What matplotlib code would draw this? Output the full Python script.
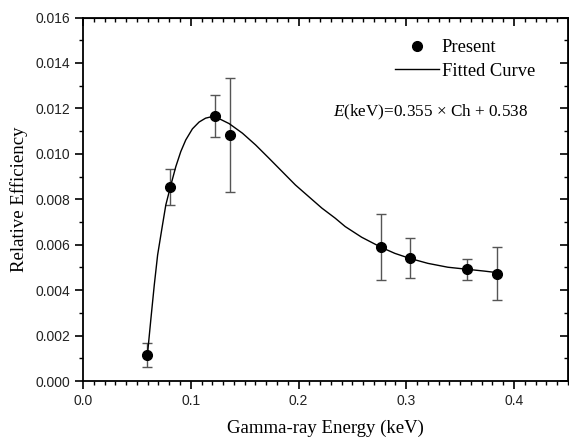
import matplotlib.pyplot as plt

# measured relative efficiency
energy = [0.0597, 0.0809, 0.1224, 0.1365, 0.2768, 0.3032, 0.3564, 0.3838]
efficiency = [0.00113, 0.00854, 0.01167, 0.01085, 0.00589, 0.00542, 0.00492, 0.00473]
err_upper = [0.00166, 0.00932, 0.01258, 0.01333, 0.00735, 0.00628, 0.00536, 0.00589]
err_lower = [0.00062, 0.00774, 0.01076, 0.00834, 0.00443, 0.00452, 0.00445, 0.00355]

# fitted curve
fit_x = [0.0600, 0.0630, 0.0661, 0.0692, 0.0732, 0.0768, 0.0815, 0.0861, 0.0907,
         0.0953, 0.1015, 0.1077, 0.1137, 0.1215, 0.1356, 0.1479, 0.1602, 0.1725,
         0.1848, 0.1971, 0.2094, 0.2217, 0.2340, 0.2433, 0.2586, 0.2765, 0.2894,
         0.3032, 0.3201, 0.3386, 0.3564, 0.3724, 0.3847]
fit_y = [0.00129, 0.00276, 0.00423, 0.00555, 0.00672, 0.00775, 0.00863, 0.00944, 0.01010,
         0.01061, 0.01110, 0.01140, 0.01157, 0.01166, 0.01133, 0.01091, 0.01039, 0.00981,
         0.00922, 0.00863, 0.00812, 0.00761, 0.00717, 0.00680, 0.00633, 0.00589, 0.00562,
         0.00540, 0.00518, 0.00501, 0.00492, 0.00484, 0.00477]

yerr = [[e - l for e, l in zip(efficiency, err_lower)],
        [u - e for e, u in zip(efficiency, err_upper)]]

plt.rcParams['font.family'] = 'Liberation Sans'
plt.rcParams['mathtext.fontset'] = 'custom'
plt.rcParams['mathtext.it'] = 'Liberation Serif:italic'
plt.rcParams['mathtext.rm'] = 'Liberation Serif'

fig = plt.figure(figsize=(5.69, 4.38), dpi=100)
ax = fig.add_axes([0.146, 0.130, 0.852, 0.830])

ax.plot(fit_x, fit_y, color='black', lw=1.0, label='Fitted Curve', zorder=2)
ax.errorbar(energy, efficiency, yerr=yerr, fmt='none', ecolor='#555555',
            elinewidth=1.0, capsize=3.5, capthick=1.0, zorder=1)
ax.plot(energy, efficiency, 'o', color='black', ms=7, label='Present',
        linestyle='none', zorder=3)

ax.set_xlim(0, 0.45)
ax.set_ylim(0, 0.016)
ax.set_xticks([0.0, 0.1, 0.2, 0.3, 0.4])
ax.set_xticklabels(['0.0', '0.1', '0.2', '0.3', '0.4'])
ax.set_yticks([0.000, 0.002, 0.004, 0.006, 0.008, 0.010, 0.012, 0.014, 0.016])
ax.set_yticklabels(['0.000', '0.002', '0.004', '0.006', '0.008', '0.010',
                    '0.012', '0.014', '0.016'])
ax.set_xticks([i * 0.01 for i in range(46)], minor=True)
ax.set_yticks([i * 0.001 for i in range(17)], minor=True)

ax.tick_params(which='major', direction='out', length=6, width=1.2,
               labelsize=10, colors='black', labelcolor='#222222')
ax.tick_params(which='minor', direction='out', length=3, width=1.0)

for s in ax.spines.values():
    s.set_linewidth(1.3)

# mirrored ticks pointing inward on top and right
top = ax.secondary_xaxis('top')
top.set_xticks([0.0, 0.1, 0.2, 0.3, 0.4])
top.set_xticks([i * 0.01 for i in range(46)], minor=True)
top.tick_params(which='major', direction='in', length=6, width=1.2, labeltop=False)
top.tick_params(which='minor', direction='in', length=3, width=1.0)
right = ax.secondary_yaxis('right')
right.set_yticks([i * 0.002 for i in range(9)])
right.set_yticks([i * 0.001 for i in range(17)], minor=True)
right.tick_params(which='major', direction='in', length=6, width=1.2, labelright=False)
right.tick_params(which='minor', direction='in', length=3, width=1.0)

ax.set_xlabel('Gamma-ray Energy (keV)', family='Liberation Serif', fontsize=13.5, labelpad=8)
ax.set_ylabel('Relative Efficiency', family='Liberation Serif', fontsize=13.5, labelpad=5)

handles, labels = ax.get_legend_handles_labels()
ax.legend(handles[::-1], labels[::-1], loc='upper left', bbox_to_anchor=(0.643, 0.941),
          frameon=False, prop={'family': 'Liberation Serif', 'size': 13.3},
          handlelength=2.4, handletextpad=0.15, labelspacing=0.36,
          borderpad=0, borderaxespad=0)

ax.text(0.515, 0.738, r'$E$(keV)=0.355 × Ch + 0.538', transform=ax.transAxes,
        family='Liberation Serif', fontsize=12.3, va='center')

fig.savefig('out.png', dpi=100)
